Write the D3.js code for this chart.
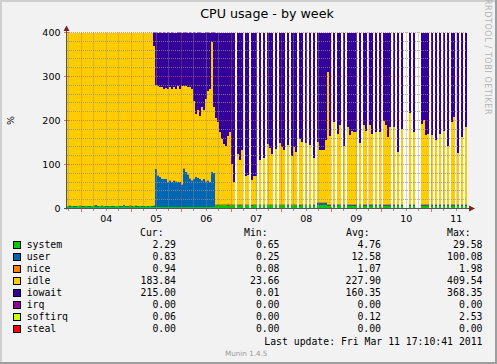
<!DOCTYPE html>
<html>
<head>
<meta charset="utf-8">
<script src="https://cdn.jsdelivr.net/npm/d3@7"></script>
<style>
  body { margin: 0; background: #f2f2f2; }
  svg { display: block; }
</style>
</head>
<body>
<div id="chart"></div>
<script>
// legend rows
const seriesNames = ['system', 'user', 'nice', 'idle', 'iowait', 'irq', 'softirq', 'steal'];
const seriesColors = ['#00cc00', '#0066b3', '#ff8000', '#ffcc00', '#330099', '#990099', '#ccff00', '#ff0000'];
const curValues = [2.29, 0.83, 0.94, 183.84, 215.00, 0.00, 0.06, 0.00];
const minValues = [0.65, 0.25, 0.08, 23.66, 0.01, 0.00, 0.00, 0.00];
const avgValues = [4.76, 12.58, 1.07, 227.90, 160.35, 0.00, 0.12, 0.00];
const maxValues = [29.58, 100.08, 1.98, 409.54, 368.35, 0.00, 2.53, 0.00];

// one sample every ~58 minutes, Mar 3 17:10 -> Mar 11 17:10 (null = no data)
const system = [
  4.6,4.4,4.8,4.5,4.3,4.6,4.7,4.4,4.5,4.6,
  4.5,4.3,4.6,4.8,4.5,4.4,4.6,4.5,4.7,4.4,
  4.5,4.6,4.3,4.5,4.7,4.6,4.4,4.5,4.6,4.5,
  4.4,4.7,4.5,4.6,4.3,4.5,4.6,4.4,4.5,4.7,
  4.5,4.6,4.4,4.2,4.1,4.0,4.2,3.9,4.1,4.0,
  4.2,4.0,4.1,3.9,4.0,4.2,4.1,4.0,4.3,4.1,
  4.0,4.2,3.9,4.1,4.0,4.2,4.1,3.9,4.0,4.2,
  4.1,4.0,4.2,4.1,7,6,7,8,7,7,
  6,7,8,7,null,7,6,8,null,7,
  8,null,6,7,8,null,7,null,7,null,
  7,8,7,null,7,null,8,7,7,null,
  6,null,7,8,7,null,6,7,null,7,
  null,7,null,6,null,8,9,8,8,7,
  6,6,null,5,null,6,7,null,5,null,
  6,6,5,6,6,null,7,null,6,5,
  null,6,6,null,6,null,6,null,6,6,
  5,6,null,6,null,5,null,6,null,null,
  null,6,null,6,null,null,null,6,5,6,
  6,null,6,null,5,null,6,null,6,null,
  6,null,5,6,null,6,null,6,null,5
];
const user = [
  1.0,2.4,0.9,1.1,1.0,0.9,1.2,1.0,1.1,0.9,
  1.0,1.1,1.0,1.3,2.6,1.0,0.9,2.2,1.1,1.0,
  0.9,1.0,1.2,1.0,1.1,0.9,1.0,1.1,2.5,1.0,
  0.9,1.2,1.0,1.1,2.3,1.0,0.9,1.0,1.2,1.1,
  1.0,0.9,1.1,2,85,71,67,63,62,62,
  56,59,56,59,57,55,56,50,86,78,
  73,63,59,63,67,65,62,59,62,57,
  59,56,78,76,2,3,2,1,2,2,
  3,2,1,2,null,2,3,1,null,2,
  1,null,3,2,1,null,2,null,2,null,
  2,1,2,null,2,null,1,2,2,null,
  3,null,2,1,2,null,3,2,null,2,
  null,2,null,3,null,5,4,5,5,6,
  3,3,null,4,null,3,2,null,4,null,
  3,3,4,3,3,null,2,null,3,4,
  null,3,3,null,3,null,3,null,3,3,
  4,3,null,3,null,4,null,3,null,null,
  null,3,null,3,null,null,null,3,4,3,
  3,null,3,null,4,null,3,null,3,null,
  3,null,4,3,null,3,null,3,null,4
];
const nice = [
  1,1,1,1,1,1,1,1,1,1,
  1,1,1,1,1,1,1,1,1,1,
  1,1,1,1,1,1,1,1,1,1,
  1,1,1,1,1,1,1,1,1,1,
  1,1,1,1,1,1,1,1,1,1,
  1,1,1,1,1,1,1,1,1,1,
  1,1,1,1,1,1,1,1,1,1,
  1,1,1,1,1,1,1,1,1,1,
  1,1,1,1,null,1,1,1,null,1,
  1,null,1,1,1,null,1,null,1,null,
  1,1,1,null,1,null,1,1,1,null,
  1,null,1,1,1,null,1,1,null,1,
  null,1,null,1,null,1,1,1,1,1,
  1,1,null,1,null,1,1,null,1,null,
  1,1,1,1,1,null,1,null,1,1,
  null,1,1,null,1,null,1,null,1,1,
  1,1,null,1,null,1,null,1,null,null,
  null,1,null,1,null,null,null,1,1,1,
  1,null,1,null,1,null,1,null,1,null,
  1,null,1,1,null,1,null,1,null,1
];
const idle = [
  393.4,392.2,393.3,393.4,393.7,393.5,393.1,393.6,393.4,393.5,
  393.5,393.6,393.4,392.9,391.9,393.6,393.5,392.3,393.2,393.6,
  393.6,393.4,393.5,393.5,393.2,393.5,393.6,393.4,391.9,393.5,
  393.7,393.1,393.5,393.3,392.4,393.5,393.5,393.6,393.3,393.2,
  393.5,393.5,393.5,362,190,202,204,209,205,207,
  210,213,211,212,210,218,211,223,187,195,
  199,208,207,177,143,153,144,166,156,187,
  204,211,295,149,195,186,165,148,137,133,
  155,165,92,50,null,115,100,124,null,65,
  66,null,55,65,65,null,100,null,105,null,
  137,127,115,null,125,null,138,129,123,null,
  135,null,109,129,118,null,148,142,null,140,
  null,135,null,104,null,138,118,120,118,141,
  301,154,null,186,null,160,179,null,133,null,
  175,158,167,163,165,null,138,null,179,167,
  null,179,160,null,163,null,163,null,188,179,
  152,175,null,175,null,118,null,171,null,null,
  null,207,null,165,null,null,null,183,192,156,
  160,null,156,null,145,null,160,null,167,null,
  133,null,186,198,null,116,null,152,null,175
];
const iowait = [
  0,0,0,0,0,0,0,0,0,0,
  0,0,0,0,0,0,0,0,0,0,
  0,0,0,0,0,0,0,0,0,0,
  0,0,0,0,0,0,0,0,0,0,
  0,0,0,31,120,122,124,123,128,126,
  129,123,128,124,128,122,128,122,122,122,
  123,124,129,155,185,177,189,170,177,151,
  132,128,22,170,195,204,225,242,253,257,
  235,225,298,340,null,275,290,266,null,325,
  324,null,335,325,325,null,290,null,285,null,
  253,263,275,null,265,null,252,261,267,null,
  255,null,281,261,272,null,242,248,null,250,
  null,255,null,286,null,248,268,266,268,245,
  89,236,null,204,null,230,211,null,257,null,
  215,232,223,227,225,null,252,null,211,223,
  null,211,230,null,227,null,227,null,202,211,
  238,215,null,215,null,272,null,219,null,null,
  null,183,null,225,null,null,null,207,198,234,
  230,null,234,null,245,null,230,null,223,null,
  257,null,204,192,null,274,null,238,null,215
];

const W = 497, H = 364;
const plotLeft = 67, plotRight = 467, plotTop = 32.5, plotBottom = 208.5;
const start = new Date(2011, 2, 3, 17, 10, 41);
const end = new Date(2011, 2, 11, 17, 10, 41);
const step = (end - start) / idle.length;

const x = d3.scaleTime().domain([start, end]).range([plotLeft, plotRight]);
const y = d3.scaleLinear().domain([0, 400]).range([plotBottom, plotTop]);

const svg = d3.select('#chart').append('svg')
  .attr('width', W).attr('height', H)
  .style('font-family', 'DejaVu Sans');

// frame
svg.append('rect').attr('width', W).attr('height', H).attr('fill', '#f2f2f2');
svg.append('path').attr('d', `M0,${H} V0 H${W}`).attr('fill', 'none')
  .attr('stroke', '#cfcfcf').attr('stroke-width', 4);
svg.append('path').attr('d', `M0,${H} H${W} V0`).attr('fill', 'none')
  .attr('stroke', '#9e9e9e').attr('stroke-width', 4);

svg.append('defs').append('clipPath').attr('id', 'plot')
  .append('rect').attr('x', plotLeft).attr('y', plotTop)
  .attr('width', plotRight - plotLeft).attr('height', plotBottom - plotTop);

svg.append('rect').attr('x', plotLeft).attr('y', plotTop)
  .attr('width', plotRight - plotLeft).attr('height', plotBottom - plotTop).attr('fill', '#fff');

// stacked columns
const keys = ['system', 'user', 'nice', 'idle', 'iowait'];
const rows = idle.map((v, i) => ({
  t0: new Date(+start + i * step),
  t1: new Date(+start + (i + 1) * step),
  system: system[i], user: user[i], nice: nice[i], idle: idle[i], iowait: iowait[i]
})).filter(d => d.idle !== null);

const layers = d3.stack().keys(keys)(rows);
const plot = svg.append('g').attr('clip-path', 'url(#plot)').attr('shape-rendering', 'crispEdges');
layers.forEach((layer, k) => {
  plot.append('g').attr('fill', seriesColors[k])
    .selectAll('rect').data(layer).join('rect')
    .attr('x', d => Math.round(x(d.data.t0)))
    .attr('width', d => Math.round(x(d.data.t1)) - Math.round(x(d.data.t0)))
    .attr('y', d => y(d[1]))
    .attr('height', d => Math.max(0, y(d[0]) - y(d[1])));
});

// grid on top of the data, like rrdtool
const grid = svg.append('g').attr('stroke-dasharray', '1,1').attr('stroke-width', 1);
const minorY = d3.range(20, 400, 20).filter(v => v % 100 !== 0);
grid.selectAll('.hmin').data(minorY).join('line')
  .attr('x1', plotLeft).attr('x2', plotRight)
  .attr('y1', d => Math.floor(y(d)) + 0.5).attr('y2', d => Math.floor(y(d)) + 0.5)
  .attr('stroke', 'rgba(143,143,143,0.75)');
const minorX = d3.timeHour.every(6).range(start, end).filter(d => d.getHours() !== 0);
grid.selectAll('.vmin').data(minorX).join('line')
  .attr('y1', plotTop).attr('y2', plotBottom)
  .attr('x1', d => Math.floor(x(d)) + 0.5).attr('x2', d => Math.floor(x(d)) + 0.5)
  .attr('stroke', 'rgba(143,143,143,0.75)');
grid.selectAll('.hmaj').data(y.ticks(4).filter(v => v > 0)).join('line')
  .attr('x1', plotLeft).attr('x2', plotRight)
  .attr('y1', d => Math.floor(y(d)) + 0.5).attr('y2', d => Math.floor(y(d)) + 0.5)
  .attr('stroke', 'rgba(222,79,79,0.6)');
const days = d3.timeDay.range(start, end);
grid.selectAll('.vmaj').data(days).join('line')
  .attr('y1', plotTop).attr('y2', plotBottom)
  .attr('x1', d => Math.floor(x(d)) + 0.5).attr('x2', d => Math.floor(x(d)) + 0.5)
  .attr('stroke', 'rgba(222,79,79,0.6)');

// small ticks
const ticks = svg.append('g').attr('shape-rendering', 'crispEdges');
ticks.selectAll('.tmin').data(minorX).join('line')
  .attr('x1', d => Math.floor(x(d)) + 0.5).attr('x2', d => Math.floor(x(d)) + 0.5)
  .attr('y1', plotBottom - 1).attr('y2', plotBottom + 2).attr('stroke', 'rgba(143,143,143,0.9)');
ticks.selectAll('.tmaj').data(days).join('line')
  .attr('x1', d => Math.floor(x(d)) + 0.5).attr('x2', d => Math.floor(x(d)) + 0.5)
  .attr('y1', plotBottom - 2).attr('y2', plotBottom + 3).attr('stroke', 'rgba(222,79,79,0.8)');
ticks.selectAll('.ty').data(y.ticks(4)).join('line')
  .attr('x1', plotLeft - 3).attr('x2', plotLeft + 2)
  .attr('y1', d => Math.floor(y(d)) + 0.5).attr('y2', d => Math.floor(y(d)) + 0.5)
  .attr('stroke', 'rgba(222,79,79,0.8)');

// axes + arrows
svg.append('line').attr('x1', plotLeft - 0.5).attr('x2', plotLeft - 0.5)
  .attr('y1', plotBottom + 1).attr('y2', 29).attr('stroke', '#555');
svg.append('line').attr('x1', plotLeft - 3).attr('x2', 470)
  .attr('y1', plotBottom).attr('y2', plotBottom).attr('stroke', '#555');
svg.append('path').attr('d', `M${plotLeft - 3.5},31 L${plotLeft - 0.5},25.5 L${plotLeft + 2.5},31 Z`)
  .attr('fill', '#801f1f');
svg.append('path').attr('d', `M469,${plotBottom - 3} L475,${plotBottom} L469,${plotBottom + 3} Z`)
  .attr('fill', '#801f1f');

// axis labels
svg.append('g').selectAll('text').data(y.ticks(4)).join('text')
  .attr('x', 60.5).attr('y', d => y(d) + 3.5)
  .attr('text-anchor', 'end').attr('font-size', 9.5).text(d => d);
svg.append('g').selectAll('text').data(days).join('text')
  .attr('x', d => x(d3.timeHour.offset(d, 12)))
  .attr('y', 222.3).attr('text-anchor', 'middle').attr('font-size', 9.5)
  .text(d3.timeFormat('%d'));

svg.append('text').attr('transform', 'translate(13.5,120.5) rotate(-90)')
  .attr('text-anchor', 'middle').attr('font-size', 9.5).text('%');

svg.append('text').attr('x', (plotLeft + plotRight) / 2).attr('y', 18.3)
  .attr('text-anchor', 'middle').attr('font-size', 12.7).text('CPU usage - by week');

svg.append('text').attr('transform', 'translate(485,57) rotate(90)')
  .attr('text-anchor', 'middle').attr('font-size', 8).attr('letter-spacing', 0.6)
  .attr('fill', '#b4b4b4')
  .text('RRDTOOL / TOBI OETIKER');

// legend
const legend = svg.append('g').style('font-family', 'DejaVu Sans Mono').attr('font-size', 9.8);
const colX = [176, 279.5, 381, 482.5];
const headX = [140, 244, 346, 447];
['Cur:', 'Min:', 'Avg:', 'Max:'].forEach((h, j) => {
  legend.append('text').attr('x', headX[j]).attr('y', 235.5).text(h);
});
const statCols = [curValues, minValues, avgValues, maxValues];
seriesNames.forEach((name, k) => {
  const by = 248 + 12 * k;
  legend.append('rect').attr('x', 13.5).attr('y', by - 6.5).attr('width', 7).attr('height', 7)
    .attr('fill', seriesColors[k]).attr('stroke', '#000').attr('stroke-width', 1)
    .attr('shape-rendering', 'crispEdges');
  legend.append('text').attr('x', 26.7).attr('y', by).text(name);
  statCols.forEach((col, j) => {
    legend.append('text').attr('x', colX[j]).attr('y', by).attr('text-anchor', 'end')
      .text(col[k].toFixed(2));
  });
});
legend.append('text').attr('x', 482.5).attr('y', 345).attr('text-anchor', 'end')
  .text('Last update: Fri Mar 11 17:10:41 2011');

svg.append('text').attr('x', 225).attr('y', 356).attr('font-size', 7.2).attr('fill', '#9a9a9a')
  .text('Munin 1.4.5');
</script>
</body>
</html>
